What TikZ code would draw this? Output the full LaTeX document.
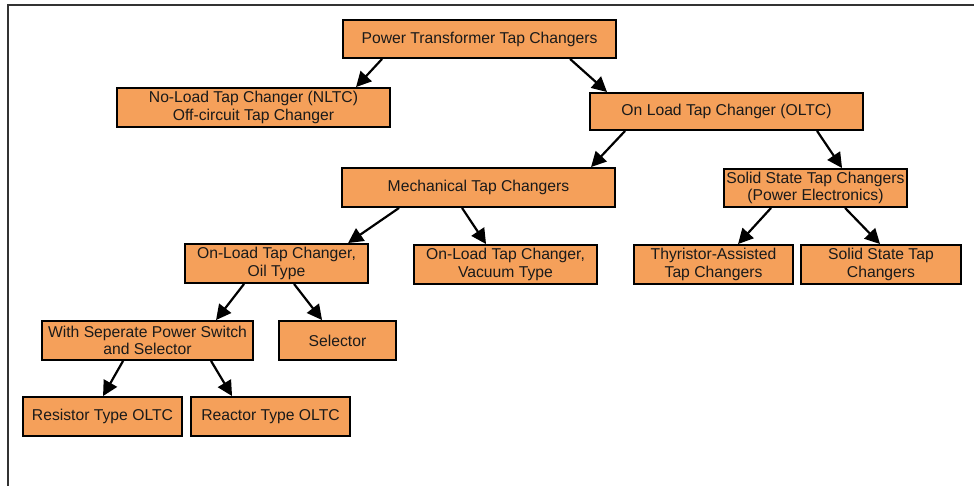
\documentclass[tikz,border=0pt]{standalone}
\usepackage{fontspec}
\setmainfont{Liberation Sans}
\usetikzlibrary{arrows.meta}
\definecolor{boxfill}{HTML}{F5A05A}
\definecolor{framegray}{HTML}{333333}
\definecolor{txt}{HTML}{1A1A1A}
\tikzset{
  box/.style={draw=black, line width=1.9pt, fill=boxfill, rectangle,
    inner sep=0pt, align=center, text=txt,
    font=\fontsize{15.7}{17.5}\selectfont},
  arr/.style={line width=2.2pt, -{Triangle[length=15pt,width=15pt]}},
}
\begin{document}
\begin{tikzpicture}[x=1pt,y=-1pt]
\useasboundingbox (0,0) rectangle (974,486);
% outer frame (top and left edges)
\draw[framegray, line width=2.4pt] (8,486) -- (8,5) -- (974,5);

% level 0
\node[box, minimum width=273pt, minimum height=38pt] (root) at (479.5,39) {Power Transformer Tap Changers};
% level 1
\node[box, minimum width=273pt, minimum height=39pt] (nltc) at (253.5,107.5) {No-Load Tap Changer (NLTC)\\Off-circuit Tap Changer};
\node[box, minimum width=273pt, minimum height=37pt] (oltc) at (726.5,111.5) {On Load Tap Changer (OLTC)};
% level 2
\node[box, minimum width=273pt, minimum height=39pt] (mech) at (478.5,187.5) {Mechanical Tap Changers};
\node[box, minimum width=183pt, minimum height=38pt] (ss) at (815.5,188) {Solid State Tap Changers\\(Power Electronics)};
% level 3
\node[box, minimum width=183pt, minimum height=39pt] (oil) at (276.5,263.5) {On-Load Tap Changer,\\Oil Type};
\node[box, minimum width=183pt, minimum height=39pt] (vac) at (505.5,264.5) {On-Load Tap Changer,\\Vacuum Type};
\node[box, minimum width=159pt, minimum height=39pt] (thy) at (713.5,264.5) {Thyristor-Assisted\\Tap Changers};
\node[box, minimum width=160pt, minimum height=39pt] (sstc) at (881,264.5) {Solid State Tap\\Changers};
% level 4
\node[box, minimum width=211pt, minimum height=39pt] (sep) at (147.5,340.5) {With Seperate Power Switch\\and Selector};
\node[box, minimum width=117pt, minimum height=39pt] (sel) at (337.5,340.5) {Selector};
% level 5
\node[box, minimum width=159pt, minimum height=39pt] (res) at (102.5,416.5) {Resistor Type OLTC};
\node[box, minimum width=159pt, minimum height=39pt] (rea) at (270.5,416.5) {Reactor Type OLTC};

% connectors
\draw[arr] ([xshift=40pt]root.south west) -- ([xshift=240pt]nltc.north west);
\draw[arr] ([xshift=228pt]root.south west) -- ([xshift=18pt]oltc.north west);
\draw[arr] ([xshift=36pt]oltc.south west) -- ([xshift=250pt]mech.north west);
\draw[arr] ([xshift=228pt]oltc.south west) -- ([xshift=119pt]ss.north west);
\draw[arr] ([xshift=58pt]mech.south west) -- ([xshift=164pt]oil.north west);
\draw[arr] ([xshift=121pt]mech.south west) -- ([xshift=73pt]vac.north west);
\draw[arr] ([xshift=48pt]ss.south west) -- ([xshift=105pt]thy.north west);
\draw[arr] ([xshift=122pt]ss.south west) -- ([xshift=80pt]sstc.north west);
\draw[arr] ([xshift=60pt]oil.south west) -- ([xshift=175pt]sep.north west);
\draw[arr] ([xshift=110pt]oil.south west) -- ([xshift=44pt]sel.north west);
\draw[arr] ([xshift=82pt]sep.south west) -- ([xshift=81pt]res.north west);
\draw[arr] ([xshift=170pt]sep.south west) -- ([xshift=42pt]rea.north west);
\end{tikzpicture}
\end{document}
